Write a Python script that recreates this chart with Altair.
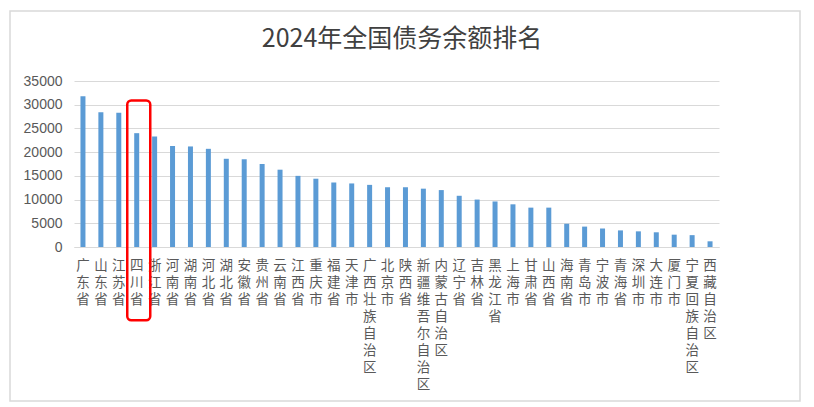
import altair as alt
import pandas as pd

regions = ["广东省", "山东省", "江苏省", "四川省", "浙江省", "河南省", "湖南省", "河北省",
           "湖北省", "安徽省", "贵州省", "云南省", "江西省", "重庆市", "福建省", "天津市",
           "广西壮族自治区", "北京市", "陕西省", "新疆维吾尔自治区", "内蒙古自治区", "辽宁省",
           "吉林省", "黑龙江省", "上海市", "甘肃省", "山西省", "海南省", "青岛市", "宁波市",
           "青海省", "深圳市", "大连市", "厦门市", "宁夏回族自治区", "西藏自治区"]
debt = [31800, 28400, 28300, 24000, 23300, 21300, 21200, 20700,
        18600, 18500, 17500, 16300, 15000, 14400, 13600, 13400,
        13100, 12600, 12600, 12300, 12000, 10800,
        10000, 9600, 9000, 8300, 8300, 4900, 4300, 3900,
        3500, 3300, 3100, 2600, 2500, 1200]
y_ticks = [0, 5000, 10000, 15000, 20000, 25000, 30000, 35000]
highlight = ["四川省"]
highlight_top = [30900]
highlight_bottom = [-15450]
title_text = ["2024年全国债务余额排名"]

df = pd.DataFrame({"region": regions, "debt": debt})
hl = pd.DataFrame({"region": highlight, "top": highlight_top, "bottom": highlight_bottom})

FONT = "Noto Sans CJK SC"
yscale = alt.Scale(domain=[0, 35000], nice=False)
xscale = alt.Scale(paddingInner=0, paddingOuter=0)
x_axis = alt.Axis(title=None, labelAngle=0, labelExpr="split(datum.label, '')",
                  labelBaseline="top", labelAlign="center", labelLineHeight=17,
                  labelPadding=11, labelFontSize=13.5, labelColor="#595959",
                  labelFont=FONT, labelOverlap=False, ticks=False,
                  domainColor="#d9d9d9", domainWidth=1)
y_axis = alt.Axis(title=None, values=y_ticks, format="d", labelFontSize=14,
                  labelColor="#595959", labelFont="Liberation Sans", labelPadding=12,
                  ticks=False, domain=False, gridColor="#d9d9d9", gridWidth=1)

frame = alt.Chart(pd.DataFrame({"k": [0]})).mark_rect(
    fill=None, stroke="#d9d9d9", strokeWidth=1.5
).encode(x=alt.value(-64), x2=alt.value(726), y=alt.value(-70), y2=alt.value(320))

title = alt.Chart(pd.DataFrame({"t": title_text})).mark_text(
    font=FONT, fontSize=25, color="#404040", align="center", baseline="middle"
).encode(text="t:N", x=alt.value(328), y=alt.value(-42))

bars = alt.Chart(df).mark_bar(color="#5b9bd5", size=5).encode(
    x=alt.X("region:N", sort=regions, scale=xscale, axis=x_axis),
    y=alt.Y("debt:Q", scale=yscale, axis=y_axis),
)

box = alt.Chart(hl).mark_bar(size=23, fill=None, stroke="#ff0000", strokeWidth=2.5,
                             cornerRadius=4).encode(
    x=alt.X("region:N", sort=regions, scale=xscale, axis=x_axis),
    xOffset=alt.value(11),
    y=alt.Y("top:Q", scale=yscale, axis=y_axis),
    y2="bottom:Q",
)

chart = alt.layer(frame, bars, box, title).properties(
    width=645, height=166,
    autosize=alt.AutoSizeParams(type="none"),
    padding={"left": 66, "top": 73, "right": 87, "bottom": 157},
).configure(background="white", view=alt.ViewConfig(stroke=None))

chart.save("out.html", embed_options={"renderer": "svg", "actions": False})
